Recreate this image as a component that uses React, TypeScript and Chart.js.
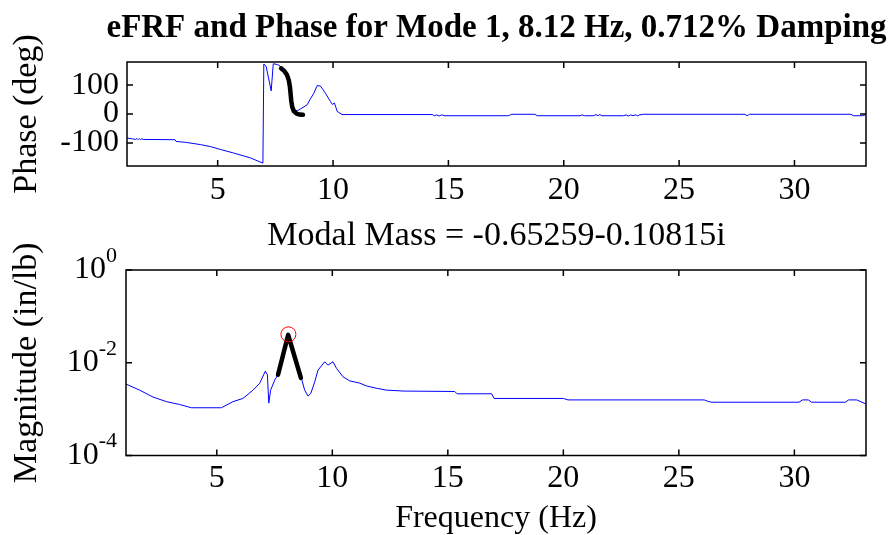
import React, { useEffect, useRef } from 'react';
import { Chart, registerables } from 'chart.js';

Chart.register(...registerables);

// ---------------- text ----------------
const TITLE = 'eFRF and Phase for Mode 1, 8.12 Hz, 0.712% Damping';
const SUBTITLE = 'Modal Mass = -0.65259-0.10815i';
const FREQ_LABEL = 'Frequency (Hz)';
const PHASE_LABEL = 'Phase (deg)';
const MAG_LABEL = 'Magnitude (in/lb)';

// ---------------- ticks ----------------
const freqTicks = [5, 10, 15, 20, 25, 30];
const phaseTicks = [-100, 0, 100];
const magTickExps = [-4, -2, 0];

// ---------------- phase (measured eFRF) ----------------
const phaseFreq = [
  1.07, 1.3, 1.45, 1.5, 1.55, 1.6, 1.65, 1.7, 1.8, 3.15, 3.2, 3.6, 4.26, 4.7, 5.13, 5.69, 6.42, 6.96,
  7.0, 7.1, 7.32, 7.41, 7.6, 7.75, 7.95, 8.1, 8.16, 8.2, 8.25, 8.32, 8.45, 8.6, 8.88, 9.0, 9.17, 9.31,
  9.45, 9.55, 9.67, 9.89, 9.97, 10.06, 10.12, 10.18, 10.39, 14.3, 14.4, 14.5, 14.6, 14.7, 14.85, 17.6,
  17.75, 18.75, 18.85, 20.7, 20.8, 20.9, 21.3, 21.4, 21.48, 21.56, 21.65, 22.6, 22.7, 22.8, 22.9, 23.0,
  23.1, 23.2, 23.3, 23.45, 27.85, 27.95, 28.05, 32.45, 32.55, 32.95, 33.1,
];
const phaseDeg = [
  -83, -86, -88, -85, -89, -85, -89, -86, -88, -89, -95, -98, -106, -113, -123, -135, -152, -170,
  173, 165, 80, 174, 171, 163, 148, 125, 100, 60, 30, 14, 11, 18, 32, 50, 72, 98,
  97, 86, 72, 43, 33, 38, 24, 9, -2, -2, -6, -3, -7, -3, -6, -6,
  -1, -1, -6, -6, -3, -6, -6, -2, -6, -2, -6, -6, -3, -7, -3, -6,
  -3, -6, -3, -1, -1, -6, -1, -1, -6, -6, -2,
];

// ---------------- phase (modal fit) ----------------
const fitPhaseFreq = [7.75, 7.88, 8.0, 8.08, 8.13, 8.16, 8.19, 8.23, 8.3, 8.42, 8.55, 8.7];
const fitPhaseDeg = [158, 150, 136, 118, 95, 70, 45, 25, 10, 1, -2, -3];

// ---------------- magnitude (measured eFRF) ----------------
const magFreq = [
  1.07, 1.66, 2.24, 2.82, 3.39, 3.9, 5.2, 5.7, 6.13, 6.57, 6.86, 7.1, 7.19, 7.25, 7.33, 7.51, 7.69,
  7.87, 8.08, 8.3, 8.52, 8.66, 8.8, 8.95, 9.07, 9.24, 9.38, 9.67, 9.81, 10.03, 10.18, 10.46, 10.75,
  11.19, 11.48, 11.91, 12.34, 13.1, 15.3, 15.4, 16.9, 17.0, 20.0, 20.2, 26.1, 26.25, 26.4, 30.2,
  30.35, 30.6, 30.75, 32.2, 32.35, 32.7, 33.1,
];
const magValue = [
  3.47e-3, 2.57e-3, 1.82e-3, 1.45e-3, 1.26e-3, 1.07e-3, 1.07e-3, 1.45e-3, 1.7e-3, 2.57e-3, 3.63e-3,
  6.6e-3, 5.5e-3, 1.35e-3, 2.57e-3, 4.27e-3, 5.9e-3, 1.35e-2, 4.3e-2, 1.48e-2, 6.46e-3, 4.68e-3,
  2.6e-3, 1.91e-3, 2.19e-3, 3.89e-3, 6.92e-3, 1.05e-2, 8.9e-3, 1.05e-2, 7.6e-3, 5.0e-3, 4.07e-3,
  3.63e-3, 3.16e-3, 2.82e-3, 2.57e-3, 2.45e-3, 2.4e-3, 2.14e-3, 2.14e-3, 1.7e-3, 1.7e-3, 1.58e-3,
  1.58e-3, 1.48e-3, 1.41e-3, 1.41e-3, 1.58e-3, 1.58e-3, 1.41e-3, 1.41e-3, 1.58e-3, 1.58e-3, 1.29e-3,
];

// ---------------- magnitude (modal fit) and peak ----------------
const fitMagFreq = [7.65, 8.09, 8.64];
const fitMagValue = [5.5e-3, 4.0e-2, 4.7e-3];
const peakFreq = [8.1];
const peakMag = [0.041];

const pts = (xs: number[], ys: number[]) => xs.map((x, i) => ({ x, y: ys[i] }));

const FONT = "'Liberation Serif', 'Times New Roman', serif";
Chart.defaults.font.family = FONT;
Chart.defaults.color = '#000';

const boxPlugin = {
  id: 'matlabBox',
  afterDatasetsDraw(chart: any) {
    const { ctx, chartArea: a, scales } = chart;
    const x = scales.x;
    const y = scales.y;
    ctx.save();
    ctx.strokeStyle = '#000';
    ctx.lineWidth = 1.5;
    ctx.strokeRect(a.left, a.top, a.right - a.left, a.bottom - a.top);
    const L = 6;
    ctx.beginPath();
    for (const t of x.ticks) {
      const px = x.getPixelForValue(t.value);
      ctx.moveTo(px, a.bottom);
      ctx.lineTo(px, a.bottom - L);
      ctx.moveTo(px, a.top);
      ctx.lineTo(px, a.top + L);
    }
    for (const t of y.ticks) {
      const py = y.getPixelForValue(t.value);
      ctx.moveTo(a.left, py);
      ctx.lineTo(a.left + L, py);
      ctx.moveTo(a.right, py);
      ctx.lineTo(a.right - L, py);
    }
    ctx.stroke();
    ctx.restore();
  },
};

const logLabelPlugin = {
  id: 'logLabels',
  afterDraw(chart: any) {
    const { ctx, chartArea: a, scales } = chart;
    const y = scales.y;
    ctx.save();
    ctx.fillStyle = '#000';
    ctx.textAlign = 'right';
    ctx.textBaseline = 'middle';
    for (const e of magTickExps) {
      const py = y.getPixelForValue(Math.pow(10, e));
      const sup = String(e);
      const right = a.left - 9;
      ctx.font = `22px ${FONT}`;
      const sw = ctx.measureText(sup).width;
      ctx.fillText(sup, right, py - 14);
      ctx.font = `32px ${FONT}`;
      ctx.fillText('10', right - sw, py);
    }
    ctx.restore();
  },
};

const hidden = {
  position: 'right' as const,
  display: true,
  ticks: { display: false },
  grid: { display: false, drawTicks: false },
  border: { display: false },
  afterFit: (s: any) => { s.width = 993 - 866; },
};

const xScale = (h: number, pad: number, withTitle: boolean) => ({
  type: 'linear' as const,
  min: 1.07,
  max: 33.1,
  grid: { display: false, drawTicks: false },
  border: { display: false },
  ticks: { font: { size: 32, lineHeight: 1.2 }, padding: pad, maxRotation: 0, autoSkip: false },
  afterBuildTicks: (s: any) => { s.ticks = freqTicks.map((v) => ({ value: v })); },
  afterFit: (s: any) => { s.height = h; },
  title: withTitle
    ? { display: true, text: FREQ_LABEL, font: { size: 32, lineHeight: 1 }, padding: { top: 0, bottom: 0 } }
    : { display: false },
});

export default function App() {
  const c1 = useRef<HTMLCanvasElement>(null);
  const c2 = useRef<HTMLCanvasElement>(null);

  useEffect(() => {
    const ch1 = new Chart(c1.current!, {
      type: 'line',
      data: {
        datasets: [
          {
            data: pts(fitPhaseFreq, fitPhaseDeg),
            borderColor: '#000',
            borderWidth: 4.5,
            borderCapStyle: 'round',
            borderJoinStyle: 'round',
            pointRadius: 0,
          },
          {
            data: pts(phaseFreq, phaseDeg),
            borderColor: '#0000ff',
            borderWidth: 1,
            pointRadius: 0,
          },
        ],
      },
      options: {
        animation: false,
        responsive: false,
        devicePixelRatio: 1,
        layout: { padding: 0 },
        plugins: {
          legend: { display: false },
          tooltip: { enabled: false },
          title: {
            display: true,
            text: TITLE,
            font: { size: 33, weight: 'bold', lineHeight: 1 },
            padding: { top: 12, bottom: 17 },
            color: '#000',
          },
        },
        scales: {
          x: xScale(215 - 166, 5, false),
          y: {
            type: 'linear',
            min: -180,
            max: 180,
            grid: { display: false, drawTicks: false },
            border: { display: false },
            ticks: { font: { size: 32 }, padding: 8 },
            afterBuildTicks: (s: any) => { s.ticks = phaseTicks.map((v) => ({ value: v })); },
            afterFit: (s: any) => { s.width = 127; },
            title: { display: true, text: PHASE_LABEL, font: { size: 34, lineHeight: 1 }, padding: { top: 10, bottom: 0 } },
          },
          yR: hidden,
        },
      } as any,
      plugins: [boxPlugin],
    });

    const ch2 = new Chart(c2.current!, {
      type: 'line',
      data: {
        datasets: [
          {
            data: pts(peakFreq, peakMag),
            showLine: false,
            pointRadius: 7.5,
            pointBorderWidth: 1,
            pointBorderColor: '#ff0000',
            pointBackgroundColor: 'rgba(0,0,0,0)',
          },
          {
            data: pts(fitMagFreq, fitMagValue),
            borderColor: '#000',
            borderWidth: 4.5,
            borderCapStyle: 'round',
            borderJoinStyle: 'round',
            pointRadius: 0,
          },
          {
            data: pts(magFreq, magValue),
            borderColor: '#0000ff',
            borderWidth: 1,
            pointRadius: 0,
          },
        ],
      },
      options: {
        animation: false,
        responsive: false,
        devicePixelRatio: 1,
        layout: { padding: 0 },
        plugins: {
          legend: { display: false },
          tooltip: { enabled: false },
          title: {
            display: true,
            text: SUBTITLE,
            font: { size: 34, weight: 'normal', lineHeight: 1 },
            padding: { top: 4, bottom: 17 },
            color: '#000',
          },
        },
        scales: {
          x: xScale(320 - 240.5, 4, true),
          y: {
            type: 'logarithmic',
            min: 1e-4,
            max: 1,
            grid: { display: false, drawTicks: false },
            border: { display: false },
            ticks: { display: false },
            afterBuildTicks: (s: any) => { s.ticks = magTickExps.map((e) => ({ value: Math.pow(10, e) })); },
            afterFit: (s: any) => { s.width = 126; },
            title: { display: true, text: MAG_LABEL, font: { size: 34, lineHeight: 1 }, padding: { top: 10, bottom: 0 } },
          },
          yR: hidden,
        },
      } as any,
      plugins: [boxPlugin, logLabelPlugin],
    });

    return () => {
      ch1.destroy();
      ch2.destroy();
    };
  }, []);

  return (
    <div style={{ position: 'absolute', left: 0, top: 0, width: 890, height: 535, overflow: 'hidden', background: '#fff' }}>
      <canvas ref={c1} width={993} height={215} style={{ position: 'absolute', left: 0, top: 0 }} />
      <canvas ref={c2} width={993} height={320} style={{ position: 'absolute', left: 0, top: 215 }} />
    </div>
  );
}
